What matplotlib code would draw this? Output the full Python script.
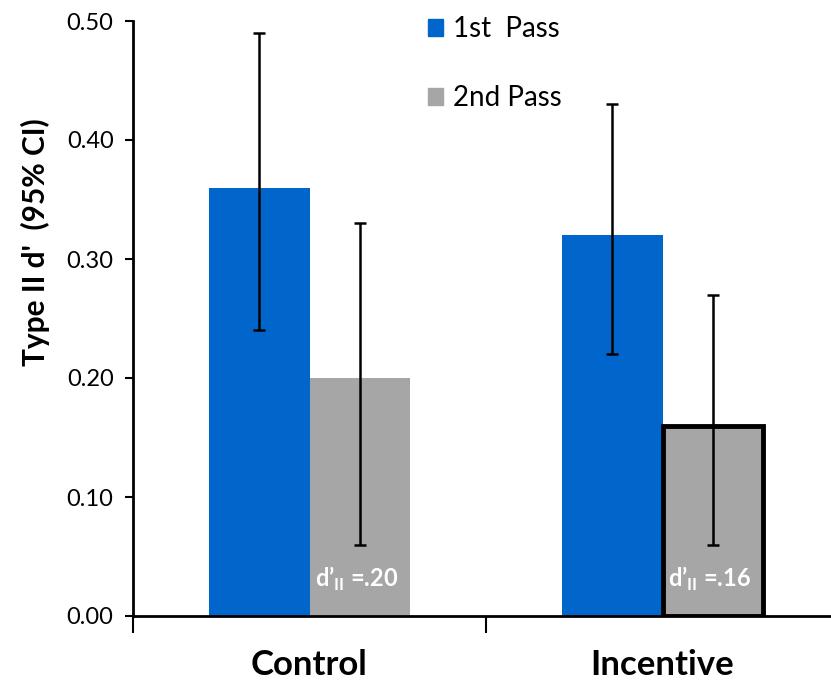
import matplotlib
matplotlib.use("Agg")
import matplotlib.pyplot as plt
from matplotlib.patches import Patch
import numpy as np

plt.rcParams['font.family'] = ['Lato', 'DejaVu Sans']
plt.rcParams['mathtext.fontset'] = 'custom'
plt.rcParams['mathtext.rm'] = 'Lato:bold'

groups = ["Control", "Incentive"]
series_labels = ["1st  Pass", "2nd Pass"]
first_pass = [0.36, 0.32]
first_lo = [0.24, 0.22]
first_hi = [0.49, 0.43]
second_pass = [0.20, 0.16]
second_lo = [0.06, 0.06]
second_hi = [0.33, 0.27]
annotations = ["=.20", "=.16"]
y_ticks = [0.0, 0.1, 0.2, 0.3, 0.4, 0.5]

blue = "#0066CC"
gray = "#A6A6A6"

W, H = 831, 680
fig = plt.figure(figsize=(W / 100, H / 100), dpi=100)
left, right, bottom, top = 133, 839, 616, 21
ax = fig.add_axes([left / W, 1 - bottom / H, (right - left) / W, (bottom - top) / H])

x = np.arange(len(groups))
bw = 0.286

def yerr(vals, lo, hi):
    return [np.array(vals) - np.array(lo), np.array(hi) - np.array(vals)]

ax.bar(x - bw / 2, first_pass, bw, color=blue, zorder=2)
ax.bar(x + bw / 2, second_pass, bw, color=gray, zorder=2)
# highlight the incentive 2nd-pass bar with a heavy outline
ax.bar(x[1] + bw / 2, second_pass[1], bw, color=gray, edgecolor="black",
       linewidth=3.5, zorder=3)

ekw = dict(fmt="none", ecolor="black", elinewidth=1.8, capsize=4, capthick=1.8, zorder=4)
ax.errorbar(x - bw / 2, first_pass, yerr=yerr(first_pass, first_lo, first_hi), **ekw)
ax.errorbar(x + bw / 2, second_pass, yerr=yerr(second_pass, second_lo, second_hi), **ekw)

for xi, txt in zip(x, annotations):
    ax.text(xi + bw / 2 - 0.01, 0.031, "d’" + r"$_{\mathrm{II}}$" + " " + txt, color="white",
            fontsize=17, fontweight="bold", ha="center", va="center", zorder=5)

ax.set_xlim(-0.5, 1.5)
ax.set_ylim(0, 0.5)
ax.set_yticks(y_ticks)
ax.set_yticklabels([f"{v:.2f}" for v in y_ticks], fontsize=17)
ax.set_xticks([-0.5, 0.5, 1.5])
ax.set_xticklabels([])
ax.set_xticks(x, minor=True)
ax.set_xticklabels(groups, minor=True, fontsize=25, fontweight="bold")
ax.tick_params(axis="x", which="minor", length=0, pad=24)
ax.tick_params(axis="x", which="major", length=12, width=1.5, direction="out")
ax.tick_params(axis="y", length=6, width=1.5, pad=8)

for s in ["top", "right"]:
    ax.spines[s].set_visible(False)
for s in ["left", "bottom"]:
    ax.spines[s].set_linewidth(2)

ax.set_ylabel("Type II d'  (95% CI)", fontsize=21.5, fontweight="bold")
ax.yaxis.set_label_coords(-0.118, 0.628)

handles = [Patch(color=blue), Patch(color=gray)]
ax.legend(handles, series_labels, loc="upper left", bbox_to_anchor=((403 - left) / (right - left), 1.05),
          frameon=False, fontsize=20, handlelength=0.55, handleheight=0.55,
          handletextpad=0.35, labelspacing=1.55)

fig.savefig("out.png", dpi=100)
